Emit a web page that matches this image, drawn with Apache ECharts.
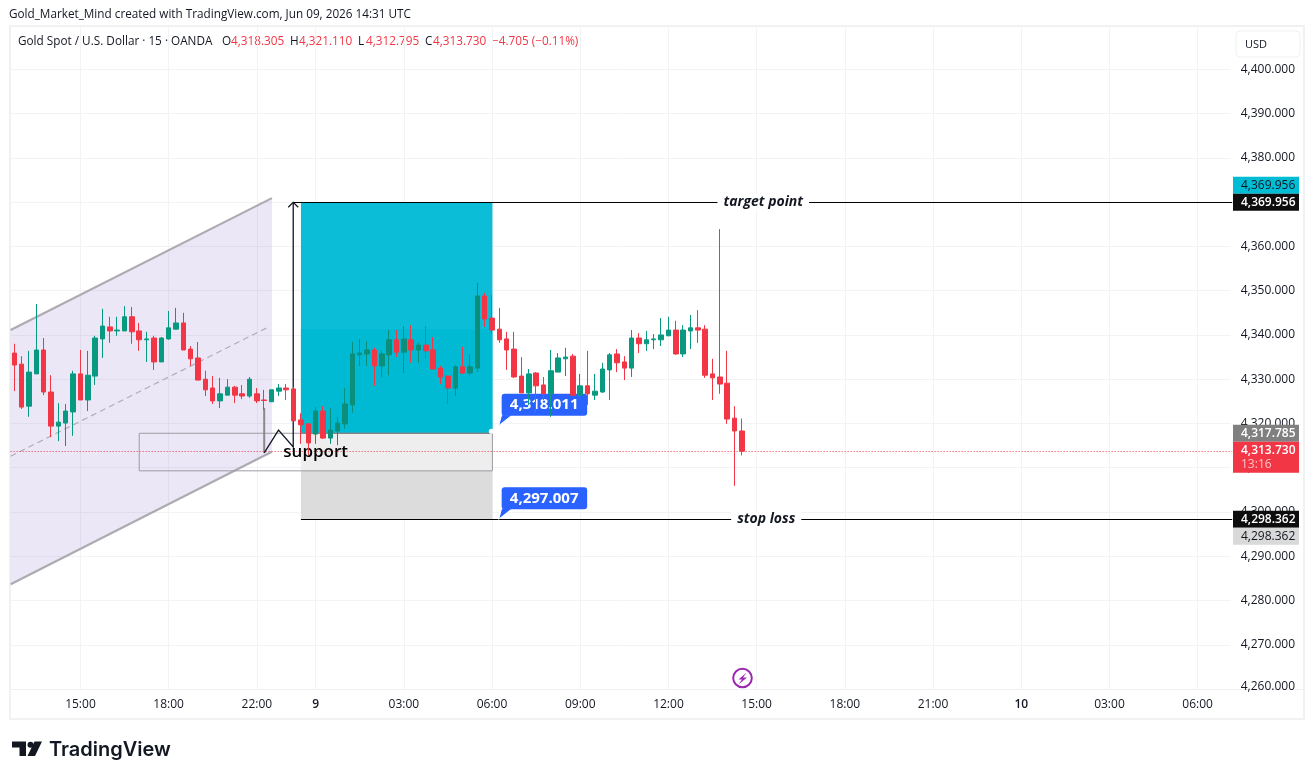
<!DOCTYPE html>
<html>
<head>
<meta charset="utf-8">
<title>Gold Spot / U.S. Dollar</title>
<script src="https://cdn.jsdelivr.net/npm/echarts@6/dist/echarts.min.js"></script>
<style>
html, body { margin: 0; padding: 0; background: #fff; }
#chart { width: 1314px; height: 779px; }
</style>
</head>
<body>
<div id="chart"></div>
<script>
// 15 minute candles
const opens = [
  4335.9, 4333.4, 4323.9, 4331.2, 4336.6, 4327.1, 4319.4, 4320.1, 4322.6, 4331.2,
  4325.3, 4330.7, 4339.1, 4341.8, 4340.9, 4340.9, 4344.1, 4340.9, 4338.9, 4339.3,
  4333.9, 4339.1, 4341.3, 4342.7, 4336.8, 4334.8, 4330.0, 4328.0, 4325.1, 4326.4,
  4328.2, 4326.7, 4326.2, 4326.7, 4325.3, 4324.9, 4327.3, 4328.0, 4327.8, 4320.8,
  4319.9, 4317.6, 4322.8, 4316.7, 4318.3, 4319.9, 4324.2, 4335.5, 4335.7, 4336.6,
  4333.0, 4335.5, 4338.9, 4336.1, 4338.9, 4336.6, 4337.7, 4336.6, 4332.5, 4330.7,
  4328.0, 4332.8, 4331.4, 4332.5, 4348.8, 4343.8, 4341.3, 4339.1, 4336.8, 4330.7,
  4326.9, 4331.4, 4328.7, 4326.7, 4331.6, 4334.6, 4335.2, 4326.4, 4328.5, 4326.4,
  4327.1, 4332.1, 4335.7, 4333.9, 4332.5, 4339.3, 4338.0, 4338.9, 4338.9, 4339.8,
  4341.1, 4335.7, 4340.9, 4341.6, 4341.3, 4331.2, 4330.5, 4329.1, 4321.2, 4318.305
];
const closes = [
  4333.2, 4323.7, 4331.6, 4336.6, 4327.1, 4319.4, 4320.3, 4322.8, 4331.2, 4325.3,
  4330.9, 4339.3, 4342.0, 4340.9, 4341.1, 4344.1, 4340.7, 4338.9, 4339.1, 4333.9,
  4339.3, 4341.6, 4342.7, 4336.6, 4334.6, 4329.8, 4327.6, 4325.1, 4326.7, 4328.2,
  4326.4, 4326.2, 4330.0, 4325.1, 4325.2, 4327.6, 4328.0, 4327.6, 4320.6, 4319.7,
  4315.6, 4322.8, 4316.7, 4318.5, 4320.1, 4324.4, 4335.7, 4335.9, 4336.6, 4333.0,
  4335.7, 4338.9, 4336.1, 4339.1, 4336.6, 4337.7, 4336.4, 4332.3, 4330.5, 4328.0,
  4332.8, 4331.4, 4332.8, 4348.8, 4343.6, 4341.1, 4338.9, 4336.6, 4330.5, 4326.9,
  4331.2, 4328.5, 4326.7, 4331.9, 4334.8, 4335.0, 4326.4, 4328.5, 4326.7, 4327.3,
  4332.3, 4335.5, 4333.7, 4332.5, 4339.3, 4338.0, 4338.9, 4339.1, 4340.0, 4341.1,
  4335.7, 4341.1, 4341.6, 4341.1, 4330.9, 4330.3, 4328.9, 4321.0, 4318.3, 4313.73
];
const lows = [
  4327.3, 4323.3, 4321.5, 4331.2, 4326.4, 4316.9, 4316.0, 4314.9, 4317.2, 4325.3,
  4322.8, 4328.7, 4334.8, 4338.2, 4339.8, 4340.9, 4338.0, 4336.4, 4333.9, 4332.1,
  4333.9, 4338.9, 4341.3, 4336.6, 4333.0, 4329.8, 4326.2, 4324.4, 4323.5, 4326.4,
  4324.6, 4325.5, 4325.8, 4324.6, 4323.0, 4324.9, 4326.2, 4325.3, 4320.6, 4315.4,
  4312.9, 4315.4, 4316.5, 4315.4, 4315.1, 4318.8, 4322.4, 4333.0, 4333.0, 4328.5,
  4330.5, 4330.9, 4335.0, 4331.4, 4333.7, 4333.7, 4334.6, 4332.3, 4328.9, 4324.4,
  4326.2, 4331.2, 4330.9, 4331.6, 4341.8, 4340.2, 4338.2, 4332.1, 4330.3, 4326.9,
  4324.2, 4322.4, 4325.3, 4321.5, 4331.6, 4330.7, 4326.2, 4325.3, 4324.2, 4325.3,
  4326.9, 4325.3, 4331.6, 4329.8, 4330.5, 4335.9, 4336.4, 4336.8, 4337.5, 4339.8,
  4335.5, 4335.0, 4336.8, 4338.2, 4330.3, 4325.3, 4326.7, 4319.9, 4305.9, 4312.795
];
const highs = [
  4338.0, 4335.2, 4336.4, 4347.0, 4339.3, 4330.9, 4324.6, 4324.4, 4331.9, 4336.6,
  4336.4, 4339.8, 4345.9, 4344.1, 4344.1, 4346.5, 4346.3, 4342.7, 4340.7, 4339.8,
  4339.5, 4345.4, 4346.1, 4345.0, 4337.5, 4338.4, 4331.9, 4330.7, 4330.3, 4330.0,
  4328.5, 4328.7, 4330.5, 4328.0, 4327.6, 4327.6, 4328.9, 4328.9, 4328.2, 4322.3,
  4320.1, 4323.7, 4323.9, 4323.5, 4321.5, 4328.0, 4338.4, 4339.1, 4338.6, 4337.1,
  4336.4, 4341.1, 4341.1, 4342.0, 4342.2, 4338.2, 4342.0, 4339.5, 4333.0, 4330.7,
  4333.2, 4337.3, 4335.7, 4351.7, 4349.5, 4349.0, 4346.1, 4340.7, 4340.7, 4335.0,
  4332.3, 4331.6, 4330.5, 4336.6, 4335.9, 4337.1, 4335.7, 4331.2, 4336.4, 4331.2,
  4333.7, 4335.9, 4336.8, 4335.2, 4341.1, 4340.4, 4340.9, 4340.2, 4343.8, 4344.1,
  4343.2, 4342.2, 4344.5, 4345.6, 4342.2, 4334.6, 4363.9, 4336.4, 4323.9, 4321.11
];

// time axis
const slotCount = 166;
const tickSlots = [9, 21, 33, 41, 53, 65, 77, 89, 101, 113, 125, 137, 149, 161];
const tickLabels = ['15:00', '18:00', '22:00', '9', '03:00', '06:00', '09:00', '12:00', '15:00', '18:00', '21:00', '10', '03:00', '06:00'];
const categories = Array.from({ length: slotCount }, (_, i) => String(i));

// price axis
const priceMin = 4260;
const priceMax = 4410;
const priceStep = 10;

// drawings, as [slot, price]
const channelUpper = [[-0.5, 4341.1], [35.05, 4370.9]];
const channelLower = [[-0.5, 4283.7], [35.05, 4313.6]];
const channelMiddle = [[-0.5, 4312.6], [34.6, 4341.8]];
const pathBlack = [[37.95, 4369.956], [37.95, 4314.7], [35.95, 4318.5], [34, 4313.35]];
const pathGrey = [[34, 4313.35], [34, 4323.5]];
const positionSlots = [39, 65.05];
const supportSlots = [17, 65.05];
const supportLow = 4309.3;
const tealSplit = 4341.3;
const targetPrice = 4369.956;
const entryPrice = 4317.785;
const stopPrice = 4298.362;
const lastPrice = 4313.73;
const bubbleValues = ['4,318.011', '4,297.007'];
const bubblePrices = [4319.5, 4298.362];

const fmt = v => v.toLocaleString('en-US', { minimumFractionDigits: 3, maximumFractionDigits: 3 });
const uiFont = '"Open Sans", "Noto Sans", sans-serif';
const up = '#089981';
const down = '#f23645';
const gridColor = '#f2f3f5';

const candles = opens.map((o, i) => {
  const inBox = i >= positionSlots[0] && i <= positionSlots[1];
  const item = { value: [o, closes[i], lows[i], highs[i]] };
  if (inBox && closes[i] >= o) item.itemStyle = { color: '#0b8f7a', borderColor: '#0b8f7a' };
  return item;
});

function drawings(params, api) {
  const pt = p => api.coord(p);
  const line = (pts, stroke, lineWidth, lineDash) => ({
    type: 'polyline', shape: { points: pts.map(pt) },
    style: { stroke, lineWidth, lineDash, fill: null }
  });
  // one pixel horizontal rule, kept on a pixel row so it stays crisp
  const rule = (s0, s1, price, stroke, lineDash) => {
    const a = pt([s0, price]);
    const b = pt([s1, price]);
    const y = Math.floor(a[1]) + 0.5;
    return {
      type: 'line', shape: { x1: a[0], y1: y, x2: b[0], y2: y },
      style: { stroke, lineWidth: 1, lineDash }
    };
  };
  const box = (s0, s1, p0, p1, fill) => {
    const a = pt([s0, p0]);
    const b = pt([s1, p1]);
    return { type: 'rect', shape: { x: a[0], y: a[1], width: b[0] - a[0], height: b[1] - a[1] }, style: { fill } };
  };
  const [b0, b1] = positionSlots;
  const rightEnd = slotCount - 0.3;
  const children = [
    // channel
    { type: 'polygon', shape: { points: [channelUpper[0], channelUpper[1], channelLower[1], channelLower[0]].map(pt) }, style: { fill: 'rgba(95,65,180,0.125)' } },
    line(channelUpper, '#aeaab2', 2.2),
    line(channelLower, '#aeaab2', 2.2),
    line(channelMiddle, '#b0adb6', 1.2, [6, 4]),
    // position
    box(b0, b1, targetPrice, entryPrice, '#0cbdd7'),
    box(b0, b1, tealSplit, entryPrice, '#00bad3'),
    box(b0, b1, entryPrice, stopPrice, '#dcdcdc'),
    box(b0, b1, entryPrice, supportLow, '#eeeeee'),
    // support rectangle
    line([[supportSlots[0], entryPrice], [supportSlots[1], entryPrice], [supportSlots[1], supportLow], [supportSlots[0], supportLow], [supportSlots[0], entryPrice]], '#9d9ca3', 1),
    line([[b0, entryPrice], [b1, entryPrice]], '#777777', 1),
    // last price
    rule(-0.5, rightEnd, lastPrice, down, [1, 2]),
    // target and stop lines
    rule(pathBlack[0][0], rightEnd, targetPrice, '#000000'),
    rule(b0, rightEnd, stopPrice, '#000000'),
    // move path
    line(pathGrey, '#8a8a8a', 2),
    line(pathBlack, '#131722', 1.3)
  ];
  const tip = pt(pathBlack[0]);
  children.push({
    type: 'polyline',
    shape: { points: [[tip[0] - 5, tip[1] + 5], tip, [tip[0] + 5, tip[1] + 5]] },
    style: { stroke: '#131722', lineWidth: 1.3, fill: null }
  });
  // handle on the entry corner
  const h = pt([b1, entryPrice]);
  children.push({ type: 'circle', shape: { cx: h[0] - 1, cy: h[1] - 2, r: 2.6 }, style: { fill: '#fff' } });

  const tagText = (text, slot, price, font) => {
    const c = pt([slot, price]);
    return {
      type: 'text',
      style: {
        text, x: c[0], y: c[1], fill: '#131722', font,
        align: 'center', verticalAlign: 'middle',
        backgroundColor: '#fff', padding: [1, 6]
      }
    };
  };
  children.push(tagText('target point', 101.9, targetPrice, 'italic bold 14px ' + uiFont));
  children.push(tagText('stop loss', 102.3, stopPrice, 'italic bold 14px ' + uiFont));

  // support label
  const s = pt([41, lastPrice]);
  children.push({
    type: 'text',
    style: { text: 'support', x: s[0], y: s[1] + 1, fill: '#000000', font: '600 17px ' + uiFont, align: 'center', verticalAlign: 'middle' }
  });

  // price bubbles
  bubbleValues.forEach((v, i) => {
    const t = pt([65.9, bubblePrices[i]]);
    const x = t[0] + 3;
    const y = t[1] - 32;
    children.push({
      type: 'polygon',
      shape: { points: [[x, y + 21], [x + 11, y + 21], t] },
      style: { fill: '#2962ff', stroke: '#fff', lineWidth: 1 }
    });
    children.push({
      type: 'rect', shape: { x, y, width: 85.5, height: 22, r: 3 }, style: { fill: '#2962ff' }
    });
    children.push({
      type: 'text',
      style: { text: v, x: x + 42.5, y: y + 11, fill: '#fff', font: 'bold 15px ' + uiFont, align: 'center', verticalAlign: 'middle' }
    });
  });
  return { type: 'group', children };
}

function scaleTags(params, api) {
  const x = 1233;
  const tag = (price, dy, height, fill, color, weight, text, extra) => {
    const y = api.coord([0, price])[1] + dy;
    const out = [
      { type: 'rect', shape: { x, y, width: 66, height }, style: { fill } },
      {
        type: 'text',
        style: {
          text, x: x + 8, y: y + 8.5, fill: color, font: weight + ' 12px ' + uiFont,
          align: 'left', verticalAlign: 'middle'
        }
      }
    ];
    if (extra) {
      out.push({
        type: 'text',
        style: { text: extra, x: x + 8, y: y + 22.5, fill: '#ffc3c8', font: '12px ' + uiFont, align: 'left', verticalAlign: 'middle' }
      });
    }
    return out;
  };
  return {
    type: 'group',
    children: [
      ...tag(targetPrice, -25.5, 17, '#00bcd4', '#131722', 'normal', fmt(targetPrice)),
      ...tag(targetPrice, -8.5, 17, '#0d0d0d', '#ffffff', '600', fmt(targetPrice)),
      ...tag(entryPrice, -8.5, 17, '#808080', '#ffffff', '600', fmt(entryPrice)),
      ...tag(lastPrice, -9.5, 31, down, '#ffffff', '600', fmt(lastPrice), '13:16'),
      ...tag(stopPrice, -8.5, 17, '#0d0d0d', '#ffffff', '600', fmt(stopPrice)),
      ...tag(stopPrice, 8.5, 17, '#d9d9d9', '#131722', 'normal', fmt(stopPrice))
    ]
  };
}

const headerX = [18, 222, 231, 290, 299, 358, 366, 425, 433, 492];
const headerPieces = [
  ['Gold Spot / U.S. Dollar · 15 · OANDA', '#131722'],
  ['O', '#131722'], ['4,318.305', down],
  ['H', '#131722'], ['4,321.110', down],
  ['L', '#131722'], ['4,312.795', down],
  ['C', '#131722'], ['4,313.730', down],
  ['−4.705 (−0.11%)', down]
];

const chrome = [
  { type: 'rect', shape: { x: 10, y: 26, width: 1294, height: 693 }, style: { fill: 'none', stroke: '#f0f1f3', lineWidth: 2 }, silent: true },
  { type: 'line', shape: { x1: 1230, y1: 689.5, x2: 1304, y2: 689.5 }, style: { stroke: '#f0f1f3', lineWidth: 1 } },
  { type: 'text', x: 9, y: 15, style: { text: 'Gold_Market_Mind created with TradingView.com, Jun 09, 2026 14:31 UTC', fill: '#131722', font: '11.74px ' + uiFont, verticalAlign: 'middle' } },
  ...headerPieces.map((p, i) => ({
    type: 'text', x: headerX[i], y: 42,
    style: { text: p[0], fill: p[1], font: '11.75px ' + uiFont, verticalAlign: 'middle' }
  })),
  // currency button
  { type: 'rect', shape: { x: 1236, y: 31, width: 64, height: 26, r: 4 }, style: { fill: '#fff', stroke: '#f0f1f3', lineWidth: 1 } },
  { type: 'text', x: 1245, y: 44.5, style: { text: 'USD', fill: '#131722', font: '11px ' + uiFont, verticalAlign: 'middle' } },
  // event marker
  { type: 'circle', shape: { cx: 742.5, cy: 678, r: 9.3 }, style: { fill: '#fff', stroke: '#9c27b0', lineWidth: 2 } },
  { type: 'polygon', shape: { points: [[746.5, 672.5], [738.5, 679.5], [742, 679.5], [738.5, 684.5], [747, 677.5], [743, 677.5]] }, style: { fill: '#9c27b0' } },
  // logo
  { type: 'polygon', shape: { points: [[12, 741.5], [26, 741.5], [26, 756], [19.5, 756], [19.5, 747.5], [12, 747.5]] }, style: { fill: '#131722' } },
  { type: 'circle', shape: { cx: 30.5, cy: 744.8, r: 3 }, style: { fill: '#131722' } },
  { type: 'polygon', shape: { points: [[34.5, 741.5], [42, 741.5], [35, 756], [27.5, 756]] }, style: { fill: '#131722' } },
  { type: 'text', x: 49, y: 750, style: { text: 'TradingView', fill: '#131722', font: '600 20px Inter, ' + uiFont, verticalAlign: 'middle' } }
];

const chart = echarts.init(document.getElementById('chart'));
chart.setOption({
  animation: false,
  backgroundColor: '#ffffff',
  textStyle: { fontFamily: uiFont },
  grid: { left: 10.62, top: 25.03, width: 1220.1, height: 664.05 },
  xAxis: [
    {
      type: 'category',
      data: categories,
      boundaryGap: true,
      axisLine: { lineStyle: { color: '#f0f1f3' } },
      axisTick: { show: false },
      axisLabel: {
        interval: i => tickSlots.includes(i),
        margin: 9,
        color: '#131722',
        fontSize: 12,
        fontFamily: uiFont,
        formatter: value => {
          const label = tickLabels[tickSlots.indexOf(Number(value))] || '';
          return label.length < 3 ? '{day|' + label + '}' : label;
        },
        rich: { day: { fontWeight: 600, fontSize: 12, color: '#131722', fontFamily: uiFont } }
      },
      splitLine: {
        show: true,
        alignWithLabel: true,
        interval: i => tickSlots.includes(i),
        lineStyle: { color: gridColor }
      }
    },
    // plain numeric twin of the slot axis, lets drawings sit between candles
    { type: 'value', min: -0.5, max: slotCount - 0.5, show: false, position: 'top', splitLine: { show: false } }
  ],
  yAxis: {
    type: 'value',
    position: 'right',
    min: priceMin,
    max: priceMax,
    interval: priceStep,
    axisLine: { show: false },
    axisTick: { show: false },
    axisLabel: {
      margin: 10,
      color: '#131722',
      fontSize: 12,
      fontFamily: uiFont,
      formatter: v => {
        if (v === priceMax) return '';
        return v === priceMin ? '{low|' + fmt(v) + '}' : fmt(v);
      },
      rich: { low: { padding: [0, 0, 6, 0], fontSize: 12, color: '#131722', fontFamily: uiFont } }
    },
    splitLine: { show: true, lineStyle: { color: gridColor } }
  },
  series: [
    {
      type: 'custom', name: 'drawings', xAxisIndex: 1, yAxisIndex: 0, z: 1, silent: true,
      data: [0], renderItem: drawings
    },
    {
      type: 'candlestick', name: 'XAUUSD', xAxisIndex: 0, yAxisIndex: 0, z: 2,
      barWidth: 5,
      itemStyle: { color: up, color0: down, borderColor: up, borderColor0: down, borderWidth: 1 },
      data: candles
    },
    {
      type: 'custom', name: 'scale tags', xAxisIndex: 1, yAxisIndex: 0, z: 3, silent: true,
      data: [0], renderItem: scaleTags
    }
  ],
  graphic: { elements: chrome }
});
window.addEventListener('resize', () => chart.resize());
</script>
</body>
</html>
